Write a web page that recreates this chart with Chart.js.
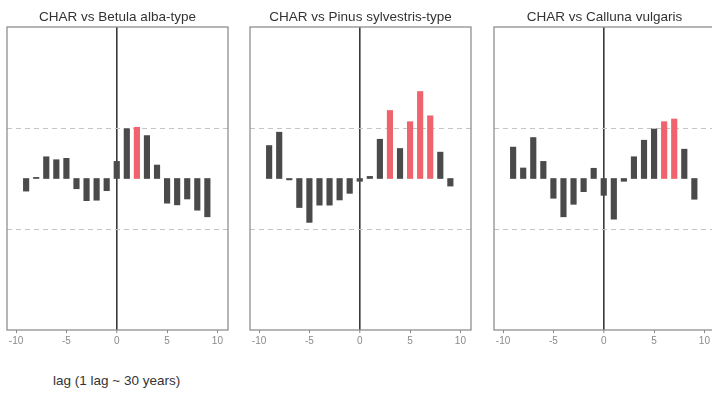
<!DOCTYPE html>
<html>
<head>
<meta charset="utf-8">
<script src="https://cdn.jsdelivr.net/npm/chart.js@4.4.1/dist/chart.umd.min.js"></script>
<style>
  body { margin: 0; background: #fff; width: 712px; height: 394px; overflow: hidden; position: relative;
         font-family: 'Liberation Sans', Arial, sans-serif; }
  canvas { position: absolute; top: 0; }
  #xlab { position: absolute; left: 53px; top: 373px; font-size: 13.5px; color: #333; }
</style>
</head>
<body>
<canvas id="c1" width="227" height="360" style="left:4px"></canvas>
<canvas id="c2" width="227" height="360" style="left:247px"></canvas>
<canvas id="c3" width="227" height="360" style="left:491px"></canvas>
<div id="xlab">lag (1 lag ~ 30 years)</div>
<script>
// lags -9 .. 9
const lags = [-9, -8, -7, -6, -5, -4, -3, -2, -1, 0, 1, 2, 3, 4, 5, 6, 7, 8, 9];
const xTicks = [-10, -5, 0, 5, 10];
const sigBound = 0.36;

const betulaValues  = [-0.09, 0.008, 0.155, 0.134, 0.144, -0.073, -0.158, -0.155, -0.087, 0.122, 0.355, 0.365, 0.306, 0.096, -0.176, -0.188, -0.146, -0.226, -0.273];
const betulaSig     = [2];
const pinusValues   = [0.235, 0.33, -0.01, -0.207, -0.313, -0.19, -0.19, -0.153, -0.106, -0.02, 0.015, 0.28, 0.485, 0.214, 0.405, 0.62, 0.447, 0.188, -0.054];
const pinusSig      = [3, 5, 6, 7];
const callunaValues = [0.224, 0.075, 0.292, 0.122, -0.141, -0.273, -0.184, -0.094, 0.073, -0.12, -0.29, -0.02, 0.155, 0.273, 0.353, 0.405, 0.424, 0.209, -0.148];
const callunaSig    = [6, 7];

const DARK = '#4a4a4a';
const RED = '#ee636c';

// frame around the plot region
const boxPlugin = {
  id: 'box',
  afterDatasetsDraw(chart) {
    const a = chart.chartArea, ctx = chart.ctx;
    ctx.save();
    ctx.strokeStyle = '#8f8f8f';
    ctx.lineWidth = 1.3;
    ctx.strokeRect(a.left, a.top, a.right - a.left, a.bottom - a.top);
    ctx.restore();
  }
};

function makePanel(id, title, values, sig) {
  const ctx = document.getElementById(id).getContext('2d');
  return new Chart(ctx, {
    type: 'bar',
    data: {
      datasets: [{
        data: lags.map((l, i) => ({ x: l, y: values[i] })),
        backgroundColor: lags.map(l => sig.includes(l) ? RED : DARK),
        borderWidth: 0,
        barThickness: 5.5
      }]
    },
    options: {
      responsive: false,
      animation: false,
      layout: { padding: { left: 3, right: 3, top: 0, bottom: 0 } },
      plugins: {
        legend: { display: false },
        tooltip: { enabled: false },
        title: {
          display: true,
          text: title,
          color: '#333',
          font: { family: "'Liberation Sans', Arial, sans-serif", size: 13.5, weight: 'normal' },
          padding: { top: 8.9, bottom: 1.9 }
        }
      },
      scales: {
        x: {
          type: 'linear',
          min: -10.9,
          max: 11.05,
          offset: false,
          afterBuildTicks: s => { s.ticks = xTicks.map(v => ({ value: v })); },
          afterFit: s => { s.height = 30; },
          grid: {
            offset: false,
            color: c => (c.tick && c.tick.value === 0) ? '#3a3a3a' : 'rgba(0,0,0,0)',
            lineWidth: c => (c.tick && c.tick.value === 0) ? 1.6 : 1,
            tickColor: '#888',
            tickWidth: 1,
            tickLength: 3
          },
          border: { display: false },
          ticks: {
            color: '#8a8a8a',
            padding: 2,
            maxRotation: 0,
            font: { family: "'Liberation Sans', Arial, sans-serif", size: 10 }
          }
        },
        y: {
          min: -1.08,
          max: 1.08,
          afterBuildTicks: s => { s.ticks = [-sigBound, sigBound].map(v => ({ value: v })); },
          afterFit: s => { s.width = 0; },
          grid: { color: '#c4c4c4', lineWidth: 1, drawTicks: false },
          border: { display: false, dash: [5, 4] },
          ticks: { display: false }
        }
      }
    },
    plugins: [boxPlugin]
  });
}

makePanel('c1', 'CHAR vs Betula alba-type', betulaValues, betulaSig);
makePanel('c2', 'CHAR vs Pinus sylvestris-type', pinusValues, pinusSig);
makePanel('c3', 'CHAR vs Calluna vulgaris', callunaValues, callunaSig);
</script>
</body>
</html>
